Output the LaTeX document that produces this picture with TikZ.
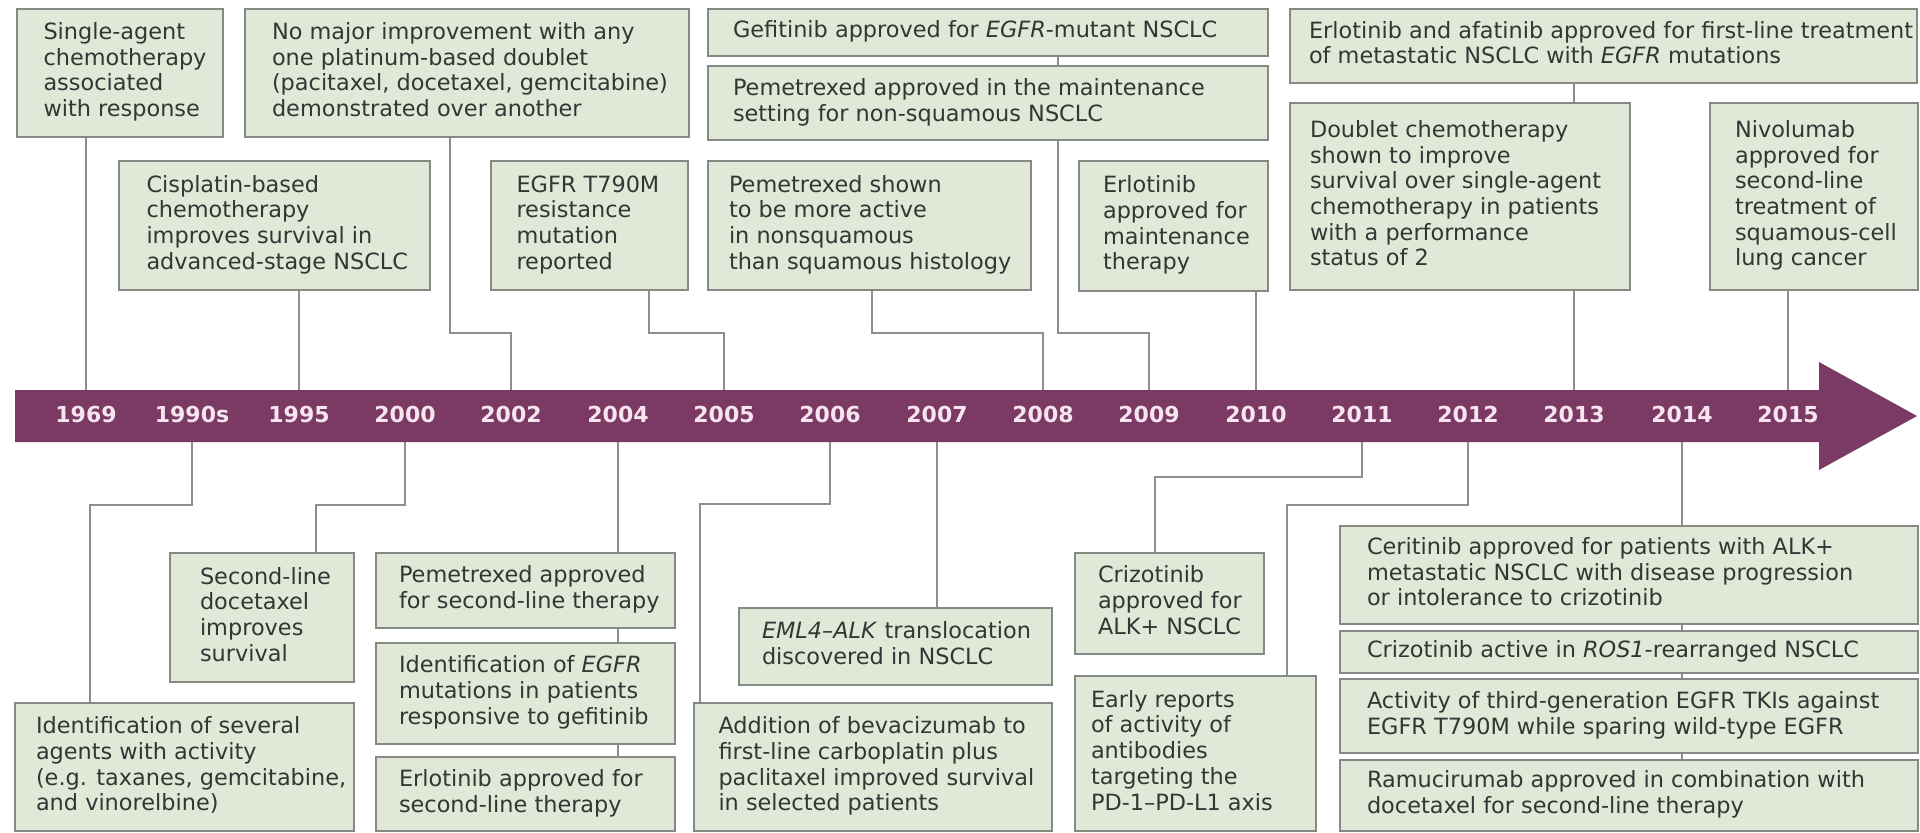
\documentclass[tikz,border=0pt]{standalone}
\usepackage{fontspec}
\setmainfont{DejaVu Sans}
\definecolor{boxfill}{HTML}{E0E9D7}
\definecolor{boxline}{HTML}{878A84}
\definecolor{connline}{HTML}{8E8E8E}
\definecolor{barcol}{HTML}{7B3A63}
\definecolor{yrtext}{HTML}{F6E4EF}
\definecolor{txt}{HTML}{353535}
\tikzset{
  box/.style={draw=boxline, fill=boxfill, line width=1pt, inner ysep=0pt,
    anchor=north west, text=txt, font=\fontsize{11.2}{12.85}\selectfont},
  conn/.style={draw=connline, line width=0.95pt},
  yr/.style={text=yrtext, font=\bfseries\fontsize{11}{13}\selectfont, inner sep=0pt}
}
\newcommand\tlbox[7]{%
  \node[box, inner xsep={#6*0.5pt}, minimum height={(#5-#3)*0.5pt}] (#1) at (#2,#3)
    {\makebox[\dimexpr #4pt/2-#2pt/2-#6pt\relax][l]{\begin{tabular}{@{}l@{}}#7\end{tabular}}};}
\begin{document}
\begin{tikzpicture}[x=0.5pt,y=-0.5pt]
\useasboundingbox (0,0) rectangle (1920,832);
\fill[white] (0,0) rectangle (1920,832);
% timeline bar
\fill[barcol] (15,390) -- (1819,390) -- (1819,362) -- (1917,416) -- (1819,470) -- (1819,442) -- (15,442) -- cycle;
\coordinate (bartop) at (15,390);
\coordinate (barbot) at (15,442);
\foreach \yr/\x in {1969/86, 1990s/192, 1995/299, 2000/405, 2002/511, 2004/618, 2005/724, 2006/830, 2007/937, 2008/1043, 2009/1149, 2010/1256, 2011/1362, 2012/1468, 2013/1574, 2014/1682, 2015/1788}
  \node[yr] (y\yr) at (\x,414) {\yr};
% top boxes
\tlbox{t1}{15.5}{8}{221.5}{136}{27}{Single-agent\\chemotherapy\\associated\\with response}
\tlbox{t2}{244}{8}{688}{136}{27}{No major improvement with any\\one platinum-based doublet\\(pacitaxel, docetaxel, gemcitabine)\\demonstrated over another}
\tlbox{t3}{117.5}{160}{428.5}{289}{28}{Cisplatin-based\\chemotherapy\\improves survival in\\advanced-stage NSCLC}
\tlbox{t4}{489.5}{160}{687}{289}{26}{EGFR T790M\\resistance\\mutation\\reported}
\tlbox{t5}{707}{8}{1267}{55}{25}{Gefitinib approved for \textit{EGFR}-mutant NSCLC}
\tlbox{t6}{707}{65}{1267}{139}{25}{Pemetrexed approved in the maintenance\\setting for non-squamous NSCLC}
\tlbox{t7}{707}{160}{1030}{289}{21}{Pemetrexed shown\\to be more active\\in nonsquamous\\than squamous histology}
\tlbox{t8}{1078}{160}{1267}{290}{24}{Erlotinib\\approved for\\maintenance\\therapy}
\tlbox{t9}{1289}{8}{1916}{82}{19}{Erlotinib and afatinib approved for first-line treatment\\of metastatic NSCLC with \textit{EGFR} mutations}
\tlbox{t10}{1289}{102}{1629}{289}{20}{Doublet chemotherapy\\shown to improve\\survival over single-agent\\chemotherapy in patients\\with a performance\\status of 2}
\tlbox{t11}{1709}{102}{1917}{289}{25}{Nivolumab\\approved for\\second-line\\treatment of\\squamous-cell\\lung cancer}
% bottom boxes
\tlbox{b1}{14}{702}{353}{830}{21}{Identification of several\\agents with activity\\(e.g. taxanes, gemcitabine,\\and vinorelbine)}
\tlbox{b2}{169}{552}{353}{681}{30}{Second-line\\docetaxel\\improves\\survival}
\tlbox{b3}{374.5}{552}{673.5}{627}{23.5}{Pemetrexed approved\\for second-line therapy}
\tlbox{b4}{374.5}{642}{673.5}{743}{23.5}{Identification of \textit{EGFR}\\mutations in patients\\responsive to gefitinib}
\tlbox{b5}{374.5}{756}{673.5}{830}{23.5}{Erlotinib approved for\\second-line therapy}
\tlbox{b6}{693}{702}{1051}{830}{24.5}{Addition of bevacizumab to\\first-line carboplatin plus\\paclitaxel improved survival\\in selected patients}
\tlbox{b7}{738}{607}{1051}{684}{23}{\textit{EML4–ALK} translocation\\discovered in NSCLC}
\tlbox{b8}{1074}{552}{1263}{653}{23}{Crizotinib\\approved for\\ALK+ NSCLC}
\tlbox{b9}{1074}{675}{1315}{830}{16}{Early reports\\of activity of\\antibodies\\targeting the\\PD-1–PD-L1 axis}
\tlbox{b10}{1339}{525}{1917}{623}{27}{Ceritinib approved for patients with ALK+\\metastatic NSCLC with disease progression\\or intolerance to crizotinib}
\tlbox{b11}{1339}{630}{1917}{672}{27}{Crizotinib active in \textit{ROS1}-rearranged NSCLC}
\tlbox{b12}{1339}{678}{1917}{752}{27}{Activity of third-generation EGFR TKIs against\\EGFR T790M while sparing wild-type EGFR}
\tlbox{b13}{1339}{759}{1917}{830}{27}{Ramucirumab approved in combination with\\docetaxel for second-line therapy}
% junctions
\coordinate (j2002) at (450,333);
\coordinate (j2005) at (649,333);
\coordinate (j2008) at (872,333);
\coordinate (j2009) at (1058,333);
\coordinate (j1990) at (90,505);
\coordinate (j2000) at (316,505);
\coordinate (j2006) at (700,504);
\coordinate (j2011) at (1155,477);
\coordinate (j2012) at (1287,505);
% top connectors
\draw[conn] (t1.south -| y1969) -- (y1969 |- bartop);
\draw[conn] (t3.south -| y1995) -- (y1995 |- bartop);
\draw[conn] (t2.south -| j2002) -- (j2002) -| (y2002 |- bartop);
\draw[conn] (t4.south -| j2005) -- (j2005) -| (y2005 |- bartop);
\draw[conn] (t7.south -| j2008) -- (j2008) -| (y2008 |- bartop);
\draw[conn] (t5.south -| j2009) -- (t6.north -| j2009);
\draw[conn] (t6.south -| j2009) -- (j2009) -| (y2009 |- bartop);
\draw[conn] (t8.south -| y2010) -- (y2010 |- bartop);
\draw[conn] (t9.south -| y2013) -- (t10.north -| y2013);
\draw[conn] (t10.south -| y2013) -- (y2013 |- bartop);
\draw[conn] (t11.south -| y2015) -- (y2015 |- bartop);
% bottom connectors
\draw[conn] (y1990s |- barbot) |- (j1990) -- (b1.north -| j1990);
\draw[conn] (y2000 |- barbot) |- (j2000) -- (b2.north -| j2000);
\draw[conn] (y2004 |- barbot) -- (b3.north -| y2004);
\draw[conn] (b3.south -| y2004) -- (b4.north -| y2004);
\draw[conn] (b4.south -| y2004) -- (b5.north -| y2004);
\draw[conn] (y2006 |- barbot) |- (j2006) -- (b6.north -| j2006);
\draw[conn] (y2007 |- barbot) -- (b7.north -| y2007);
\draw[conn] (y2011 |- barbot) |- (j2011) -- (b8.north -| j2011);
\draw[conn] (y2012 |- barbot) |- (j2012) -- (b9.north -| j2012);
\draw[conn] (y2014 |- barbot) -- (b10.north -| y2014);
\draw[conn] (b10.south -| y2014) -- (b11.north -| y2014);
\draw[conn] (b11.south -| y2014) -- (b12.north -| y2014);
\draw[conn] (b12.south -| y2014) -- (b13.north -| y2014);
\end{tikzpicture}
\end{document}
